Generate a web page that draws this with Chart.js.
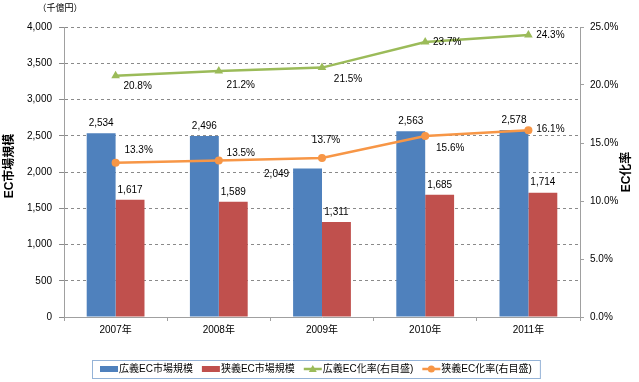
<!DOCTYPE html>
<html lang="ja">
<head>
<meta charset="utf-8">
<script src="https://cdn.jsdelivr.net/npm/chart.js@4"></script>
<style>
  html, body { margin: 0; padding: 0; background: #fff; }
  #wrap { width: 639px; height: 382px; position: relative; }
</style>
</head>
<body>
<div id="wrap"><canvas id="chart"></canvas></div>
<script>
// --- Data ---
const years = ['2007年', '2008年', '2009年', '2010年', '2011年'];
const broadMarket = [2534, 2496, 2049, 2563, 2578];   // 広義EC市場規模 (千億円)
const narrowMarket = [1617, 1589, 1311, 1685, 1714];  // 狭義EC市場規模 (千億円)
const broadRate = [20.8, 21.2, 21.5, 23.7, 24.3];     // 広義EC化率 (%)
const narrowRate = [13.3, 13.5, 13.7, 15.6, 16.1];    // 狭義EC化率 (%)

const seriesNames = ['広義EC市場規模', '狭義EC市場規模', '広義EC化率(右目盛)', '狭義EC化率(右目盛)'];
const leftAxisMax = 4000, leftAxisStep = 500;
const rightAxisMax = 25, rightAxisStep = 5;

// --- Styles ---
const FONT = '"Liberation Sans", "Noto Sans CJK JP", sans-serif';
const BLUE = '#4F81BD', RED = '#C0504D', GREEN = '#9BBB59', ORANGE = '#F79646';
const GRID = '#8a8a8a', AXIS = '#a0a0a0';

// label offsets from each mark (px)
const broadMarketOffsets = [[0, -10], [0, -10], [-31, 6], [0, -10], [0, -10]];
const narrowMarketOffsets = [[0, -10], [0, -10], [0, -10], [0, -10], [0, -10]];
const broadRateOffsets = [[22, 11], [22, 14], [26, 12], [22, 0], [22, 0]];
const narrowRateOffsets = [[23, -12], [22, -7], [4, -18], [25, 12], [22, -1]];

const fmtNum = v => v.toLocaleString('en-US');
const fmtPct = v => v.toFixed(1) + '%';

// --- Plugin: value labels, axis titles, unit, legend ---
const decorations = {
    id: 'decorations',
    afterDatasetsDraw(chart) {
        const ctx = chart.ctx;
        ctx.save();
        ctx.font = '10px ' + FONT;
        ctx.fillStyle = '#000';
        ctx.textAlign = 'center';
        ctx.textBaseline = 'middle';
        chart.data.datasets.forEach((ds, i) => {
            const meta = chart.getDatasetMeta(i);
            meta.data.forEach((el, j) => {
                const off = ds.labelOffsets[j];
                ctx.fillText(ds.format(ds.data[j]), el.x + off[0], el.y + off[1]);
            });
        });
        ctx.restore();
    },
    afterDraw(chart) {
        const ctx = chart.ctx;
        const area = chart.chartArea;
        const midY = (area.top + area.bottom) / 2;
        ctx.save();
        ctx.fillStyle = '#000';
        ctx.textAlign = 'center';
        ctx.textBaseline = 'middle';

        // unit
        ctx.font = '9px ' + FONT;
        ctx.fillText('（千億円）', 60, 9);

        // axis titles
        ctx.font = 'bold 12px ' + FONT;
        ctx.save();
        ctx.translate(10, midY - 6);
        ctx.rotate(-Math.PI / 2);
        ctx.fillText('EC市場規模', 0, 0);
        ctx.restore();
        ctx.save();
        ctx.translate(627, midY);
        ctx.rotate(-Math.PI / 2);
        ctx.fillText('EC化率', 0, 0);
        ctx.restore();

        // legend
        ctx.font = '10px ' + FONT;
        const symW = 18, gap = 9;
        const items = chart.data.datasets.map(ds => ({
            ds: ds, w: symW + 1 + ctx.measureText(ds.label).width
        }));
        const total = items.reduce((s, it) => s + it.w, 0) + gap * (items.length - 1);
        const boxPad = 8, boxY = 360, boxH = 18;
        let x = Math.round(chart.width / 2 - total / 2 - 4);
        const cy = boxY + boxH / 2;
        ctx.strokeStyle = '#95B3D7';
        ctx.lineWidth = 1;
        ctx.strokeRect(x - boxPad + 0.5, boxY + 0.5, total + boxPad * 2, boxH);
        items.forEach(it => {
            const ds = it.ds;
            if (ds.type === 'bar') {
                ctx.fillStyle = ds.backgroundColor;
                ctx.fillRect(x, cy - 3, symW, 6);
            } else {
                ctx.strokeStyle = ds.borderColor;
                ctx.lineWidth = 2.5;
                ctx.beginPath();
                ctx.moveTo(x, cy);
                ctx.lineTo(x + symW, cy);
                ctx.stroke();
                ctx.fillStyle = ds.borderColor;
                ctx.beginPath();
                if (ds.pointStyle === 'triangle') {
                    ctx.moveTo(x + symW / 2, cy - 4);
                    ctx.lineTo(x + symW / 2 + 4, cy + 3);
                    ctx.lineTo(x + symW / 2 - 4, cy + 3);
                } else {
                    ctx.arc(x + symW / 2, cy, 3.5, 0, Math.PI * 2);
                }
                ctx.fill();
            }
            ctx.fillStyle = '#000';
            ctx.textAlign = 'left';
            ctx.fillText(ds.label, x + symW + 1, cy);
            x += it.w + gap;
        });
        ctx.restore();
    }
};

// --- Chart ---
new Chart(document.getElementById('chart'), {
    data: {
        labels: years,
        datasets: [
            {
                type: 'bar', label: seriesNames[0], data: broadMarket, yAxisID: 'y', order: 1,
                backgroundColor: BLUE, categoryPercentage: 0.56, barPercentage: 1,
                labelOffsets: broadMarketOffsets, format: fmtNum
            },
            {
                type: 'bar', label: seriesNames[1], data: narrowMarket, yAxisID: 'y', order: 1,
                backgroundColor: RED, categoryPercentage: 0.56, barPercentage: 1,
                labelOffsets: narrowMarketOffsets, format: fmtNum
            },
            {
                type: 'line', label: seriesNames[2], data: broadRate, yAxisID: 'y1', order: 0,
                borderColor: GREEN, backgroundColor: GREEN, borderWidth: 2.5,
                pointStyle: 'triangle', pointRadius: 5, pointBorderWidth: 0,
                labelOffsets: broadRateOffsets, format: fmtPct
            },
            {
                type: 'line', label: seriesNames[3], data: narrowRate, yAxisID: 'y1', order: 0,
                borderColor: ORANGE, backgroundColor: ORANGE, borderWidth: 2.5,
                pointStyle: 'circle', pointRadius: 4, pointBorderWidth: 0,
                labelOffsets: narrowRateOffsets, format: fmtPct
            }
        ]
    },
    options: {
        responsive: true,
        maintainAspectRatio: false,
        animation: false,
        layout: { padding: { top: 27, bottom: 37, left: 0, right: 0 } },
        plugins: {
            legend: { display: false },
            tooltip: { enabled: false }
        },
        scales: {
            x: {
                offset: true,
                afterFit: s => { s.height = 28; },
                grid: { drawOnChartArea: false, offset: true, tickLength: 4, tickColor: AXIS },
                border: { color: AXIS, width: 1 },
                ticks: { color: '#000', font: { size: 10, family: FONT }, padding: 3 }
            },
            y: {
                position: 'left',
                min: 0, max: leftAxisMax,
                afterFit: s => { s.width = 64; },
                grid: { color: GRID, tickLength: 5, tickColor: GRID },
                border: { color: AXIS, width: 1, dash: [3, 3] },
                ticks: {
                    stepSize: leftAxisStep, color: '#000', padding: 7,
                    font: { size: 10, family: FONT },
                    callback: v => fmtNum(v)
                }
            },
            y1: {
                position: 'right',
                min: 0, max: rightAxisMax,
                afterFit: s => { s.width = 59; },
                grid: { drawOnChartArea: false, tickLength: 4, tickColor: AXIS },
                border: { color: AXIS, width: 1 },
                ticks: {
                    stepSize: rightAxisStep, color: '#000', padding: 6,
                    font: { size: 10, family: FONT },
                    callback: v => fmtPct(v)
                }
            }
        }
    },
    plugins: [decorations]
});
</script>
</body>
</html>
